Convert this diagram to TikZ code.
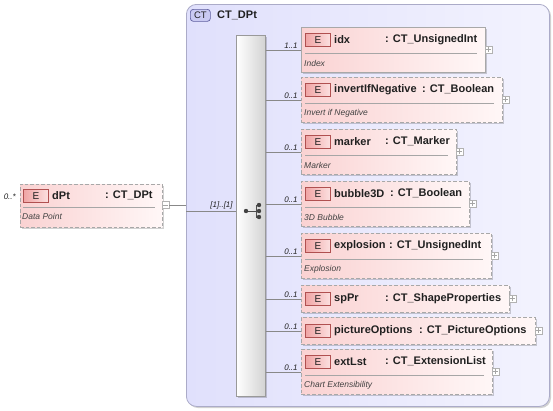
\documentclass[tikz,border=0pt]{standalone}
\usepackage{fontspec}
\setmainfont{Liberation Sans}
\usetikzlibrary{shadows}
\definecolor{ctfillL}{HTML}{E0E0FC}
\definecolor{ctfillR}{HTML}{F3F3FE}
\definecolor{ctborder}{HTML}{ABABC8}
\definecolor{ctbadge}{HTML}{CACAF2}
\definecolor{ctbadgeb}{HTML}{6060A0}
\definecolor{elL}{HTML}{FAD2D2}
\definecolor{elR}{HTML}{FFF7F7}
\definecolor{elborder}{HTML}{A8A8A8}
\definecolor{ebL}{HTML}{F0A4A4}
\definecolor{ebR}{HTML}{FCE0E0}
\definecolor{ebborder}{HTML}{B05050}
\definecolor{txt}{HTML}{202020}
\definecolor{conncol}{HTML}{888888}
\newcommand{\elembox}[8]{%
  % #1 id, #2 top, #3 right, #4 name, #5 type x, #6 type, #7 desc, #8 dash style
  \node[elbox,#8,anchor=north west,minimum width={#3pt-301pt},minimum height=45pt] (#1) at (301,#2) {};
  \node[ebadge,anchor=north west] (#1b) at (305,{#2+6}) {E};
  \node[nametext] (#1n) at (334,{#2+12.5}) {#4};
  \node[nametext] (#1t) at (#5,{#2+12.5}) {: #6};
  \draw[sepline] (305,{#2+26}) -- ({#3-8},{#2+26});
  \node[desctext] (#1d) at (304,{#2+36}) {#7};
  \node[plusbox] (#1p) at ({#3+3.5},{#2+22.5}) {};
  \draw[plusline] ([xshift=1.5pt]#1p.west) -- ([xshift=-1.5pt]#1p.east);
  \draw[plusline] ([yshift=-1.5pt]#1p.north) -- ([yshift=1.5pt]#1p.south);
}
\newcommand{\elemshort}[7]{%
  \node[elbox,#7,anchor=north west,minimum width={#3pt-301pt},minimum height=27pt] (#1) at (301,#2) {};
  \node[ebadge,anchor=north west] (#1b) at (305,{#2+7}) {E};
  \node[nametext] (#1n) at (334,{#2+13.5}) {#4};
  \node[nametext] (#1t) at (#5,{#2+13.5}) {: #6};
  \node[plusbox] (#1p) at ({#3+3.5},{#2+13.5}) {};
  \draw[plusline] ([xshift=1.5pt]#1p.west) -- ([xshift=-1.5pt]#1p.east);
  \draw[plusline] ([yshift=-1.5pt]#1p.north) -- ([yshift=1.5pt]#1p.south);
}
\newcommand{\seqlink}[2]{%
  \draw[conn] (seq.east |- #1.west) -- (#1.west) node[multtext,pos=1,anchor=south east,xshift=-3pt,yshift=1pt] (#1m) {#2};
}
\begin{document}
\begin{tikzpicture}[x=1pt,y=-1pt,
  shadowed/.style={drop shadow={shadow xshift=1.6pt,shadow yshift=-1.6pt,fill=black,opacity=0.18}},
  elbox/.style={draw=elborder,line width=0.8pt,left color=elL,right color=elR,shadowed,inner sep=0pt},
  solidb/.style={solid},
  dashb/.style={dash pattern=on 3.5pt off 2pt},
  ebadge/.style={draw=ebborder,line width=0.7pt,left color=ebL,right color=ebR,minimum width=25pt,minimum height=13pt,inner sep=0pt,font=\fontsize{10}{10}\selectfont,text=txt},
  nametext/.style={anchor=west,inner sep=0pt,font=\fontsize{11}{12}\selectfont\bfseries,text=txt},
  desctext/.style={anchor=west,inner sep=0pt,font=\fontsize{8.5}{9}\selectfont\itshape,text=txt!85},
  multtext/.style={inner sep=0pt,font=\fontsize{8}{9}\selectfont\itshape,text=txt},
  sepline/.style={draw=gray!70,line width=0.7pt},
  plusbox/.style={draw=gray!60,fill=white,line width=0.6pt,minimum size=7pt,inner sep=0pt},
  plusline/.style={draw=gray!70,line width=0.5pt},
  conn/.style={draw=conncol,line width=0.7pt}]
\useasboundingbox (0,0) rectangle (553,410);
% complex type container
\node[draw=ctborder,line width=0.8pt,rounded corners=10pt,left color=ctfillL,right color=ctfillR,shadowed,anchor=north west,minimum width=363pt,minimum height=402pt,inner sep=0pt] (ct) at (186,4) {};
\node[draw=ctbadgeb,line width=0.7pt,fill=ctbadge,rounded corners=3pt,anchor=north west,minimum width=20pt,minimum height=12pt,inner sep=0pt,font=\fontsize{9.5}{10}\selectfont,text=txt] (ctb) at (190,9) {CT};
\node[nametext] (ctname) at (217,15) {CT\_DPt};
% sequence compositor
\node[draw=gray!80,line width=0.8pt,left color=white,right color=gray!35,shadowed,anchor=north west,minimum width=29pt,minimum height=361pt,inner sep=0pt] (seq) at (236,35) {};
\coordinate (sq0) at (246,211);
\coordinate (sq1) at (256,205);
\coordinate (sq2) at (256,217);
\draw[line width=1pt,txt!80] (sq0) -- (256,211) (sq1) -- (sq2) (sq1) -- (259,205) (256,211) -- (259,211) (sq2) -- (259,217);
\fill[txt!85] (sq0) circle (2.2pt) (259,205) circle (2.2pt) (259,211) circle (2.2pt) (259,217) circle (2.2pt);
% dPt element
\node[elbox,dashb,anchor=north west,minimum width=142pt,minimum height=43pt] (dpt) at (20,184) {};
\node[ebadge,anchor=north west] (dptb) at (23,189) {E};
\node[nametext] (dptn) at (52,195.5) {dPt};
\node[nametext] (dptt) at (105,195.5) {: CT\_DPt};
\draw[sepline] (23,207) -- (155,207);
\node[desctext] (dptd) at (22,216) {Data Point};
\node[multtext,anchor=east] (dptm) at (16,197) {0..*};
\node[plusbox] (dptp) at (165.5,205) {};
\draw[plusline] ([xshift=1.5pt]dptp.west) -- ([xshift=-1.5pt]dptp.east);
\draw[conn] (dptp.east) -- (dptp.east -| ct.west);
\coordinate (ctin) at (186,211);
\draw[conn] (ctin) -- (ctin -| seq.west) node[multtext,pos=1,anchor=south east,xshift=-3pt,yshift=1pt] (seqm) {[1]..[1]};
% children
\elembox{idx}{27}{485}{idx}{385}{CT\_UnsignedInt}{Index}{solidb}
\elembox{inv}{77}{502}{invertIfNegative}{422}{CT\_Boolean}{Invert if Negative}{dashb}
\elembox{mrk}{129}{456}{marker}{385}{CT\_Marker}{Marker}{dashb}
\elembox{bub}{181}{469}{bubble3D}{390}{CT\_Boolean}{3D Bubble}{dashb}
\elembox{exp}{233}{491}{explosion}{389}{CT\_UnsignedInt}{Explosion}{dashb}
\elemshort{sppr}{285}{509}{spPr}{385}{CT\_ShapeProperties}{dashb}
\elemshort{pic}{317}{535}{pictureOptions}{419}{CT\_PictureOptions}{dashb}
\elembox{ext}{349}{492}{extLst}{385}{CT\_ExtensionList}{Chart Extensibility}{dashb}
\seqlink{idx}{1..1}
\seqlink{inv}{0..1}
\seqlink{mrk}{0..1}
\seqlink{bub}{0..1}
\seqlink{exp}{0..1}
\seqlink{sppr}{0..1}
\seqlink{pic}{0..1}
\seqlink{ext}{0..1}
\end{tikzpicture}
\end{document}
